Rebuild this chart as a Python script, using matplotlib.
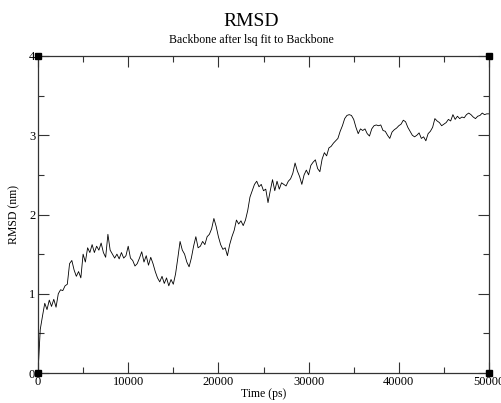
import matplotlib
matplotlib.use("Agg")
import matplotlib.pyplot as plt
import numpy as np

plt.rcParams['font.family'] = ['Liberation Serif', 'DejaVu Serif']

# RMSD values (nm), one every 250 ps from 0 to 50000 ps
time_step = 250
rmsd = [
    0.00, 0.55, 0.72, 0.88, 0.80, 0.92, 0.84, 0.93, 0.83, 1.00,
    1.05, 1.04, 1.10, 1.12, 1.38, 1.42, 1.30, 1.22, 1.28, 1.20,
    1.50, 1.40, 1.58, 1.52, 1.62, 1.52, 1.60, 1.55, 1.64, 1.52,
    1.46, 1.75, 1.55, 1.50, 1.45, 1.50, 1.44, 1.52, 1.45, 1.48,
    1.60, 1.45, 1.42, 1.35, 1.38, 1.45, 1.53, 1.40, 1.48, 1.36,
    1.46, 1.38, 1.28, 1.20, 1.15, 1.22, 1.13, 1.20, 1.10, 1.18,
    1.12, 1.25, 1.45, 1.66, 1.55, 1.50, 1.40, 1.34, 1.45, 1.60,
    1.72, 1.58, 1.60, 1.66, 1.62, 1.72, 1.75, 1.82, 1.95, 1.85,
    1.72, 1.62, 1.56, 1.58, 1.48, 1.62, 1.72, 1.80, 1.93, 1.88,
    1.92, 1.86, 1.93, 2.05, 2.22, 2.30, 2.38, 2.42, 2.35, 2.38,
    2.30, 2.32, 2.15, 2.30, 2.44, 2.30, 2.42, 2.32, 2.40, 2.38,
    2.36, 2.42, 2.45, 2.52, 2.65, 2.55, 2.48, 2.38, 2.50, 2.56,
    2.50, 2.62, 2.66, 2.69, 2.58, 2.54, 2.70, 2.78, 2.74, 2.84,
    2.86, 2.90, 2.93, 2.96, 3.05, 3.12, 3.21, 3.25, 3.26, 3.25,
    3.20, 3.10, 3.02, 3.08, 3.06, 3.08, 3.02, 2.99, 3.08, 3.12,
    3.13, 3.12, 3.13, 3.06, 3.05, 3.00, 2.96, 3.04, 3.07, 3.09,
    3.12, 3.14, 3.19, 3.17, 3.10, 3.05, 3.00, 2.98, 3.00, 3.03,
    2.96, 2.98, 2.93, 3.02, 3.05, 3.10, 3.21, 3.18, 3.16, 3.12,
    3.14, 3.16, 3.20, 3.18, 3.26, 3.20, 3.24, 3.21, 3.23, 3.22,
    3.26, 3.28, 3.26, 3.23, 3.21, 3.24, 3.25, 3.28, 3.26, 3.27,
    3.27,
]
time = np.arange(len(rmsd)) * time_step

xlim = (0, 50000)
ylim = (0, 4)
xticks = [0, 10000, 20000, 30000, 40000, 50000]
yticks = [0, 1, 2, 3, 4]

fig = plt.figure(figsize=(5.02, 4.03), dpi=100)
ax = fig.add_axes([38 / 502, 30 / 403, 451 / 502, 317 / 403])

ax.plot(time, rmsd, color='black', lw=0.6)

ax.set_xlim(*xlim)
ax.set_ylim(*ylim)
ax.set_xticks(xticks)
ax.set_yticks(yticks)
ax.set_xticks(np.arange(5000, 50000, 10000), minor=True)
ax.set_yticks(np.arange(0.5, 4, 1.0), minor=True)
ax.tick_params(which='both', direction='in', top=True, right=True,
               labelsize=9, pad=2, width=0.8, colors='#333333',
               labelcolor='black')
ax.tick_params(which='major', length=8)
ax.tick_params(which='minor', length=4.5)
for s in ax.spines.values():
    s.set_linewidth(0.9)
    s.set_color('#333333')

# corner markers like the Grace output
ax.plot([xlim[0], xlim[1], xlim[0], xlim[1]], [ylim[0], ylim[0], ylim[1], ylim[1]],
        ls='none', marker='s', ms=4, color='black', clip_on=False, zorder=5)

ax.set_xlabel('Time (ps)', fontsize=8.5, labelpad=0)
ax.set_ylabel('RMSD (nm)', fontsize=8.5, labelpad=6)

fig.text(0.5, 1 - 21 / 403, 'RMSD', ha='center', va='center', fontsize=14)
fig.text(0.5, 1 - 40 / 403, 'Backbone after lsq fit to Backbone', ha='center',
         va='center', fontsize=8.5)

fig.savefig('out.png', dpi=100)
